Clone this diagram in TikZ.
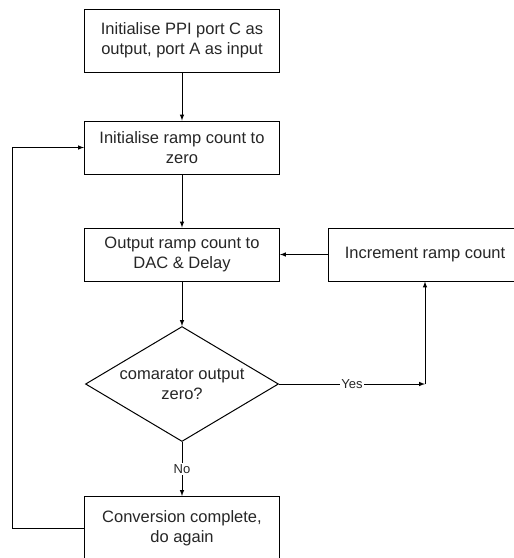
\documentclass[tikz,border=0pt]{standalone}
\usepackage{fontspec}
\setmainfont{Liberation Sans}
\usepackage{tikz}
\usetikzlibrary{arrows,shapes.geometric}

\begin{document}
\begin{tikzpicture}[>=latex, line width=1pt, font=\fontsize{16.5}{20}\selectfont, text=black!85,
  box/.style = {draw, rectangle, minimum width=195pt, minimum height=53pt, align=center},
  dec/.style = {draw, diamond, aspect=1.68, inner sep=0pt, minimum width=193pt, minimum height=115pt, align=center},
  lbl/.style = {fill=white, inner sep=1pt, font=\fontsize{13}{15}\selectfont}]
\useasboundingbox (0,0) rectangle (514pt,-558pt);
\node[box,minimum height=63pt] (init) at (182pt,-40.5pt) {Initialise PPI port C as\\output, port A as input};
\node[box] (zero) [below of=init,node distance=107pt] {Initialise ramp count to\\zero};
\node[box] (out) [below of=zero,node distance=107pt] {Output ramp count to\\DAC \& Delay};
\node[dec] (cmp) [below of=out,node distance=129.5pt] {comarator output\\zero?};
\node[box,minimum height=63pt] (done) [below of=cmp,node distance=144pt] {Conversion complete,\\do again};
\node[box,minimum width=194pt] (inc) [right of=out,node distance=243pt] {Increment ramp count};
\coordinate (yes) at (cmp.east -| inc.south);
\coordinate (back) at (12pt,0);
\draw[->] (init) -- (zero);
\draw[->] (zero) -- (out);
\draw[->] (out) -- (cmp);
\draw[->] (cmp) -- node[lbl] {No} (done);
\draw[->] (cmp.east) -- node[lbl] {Yes} (yes);
\draw[->] (yes) -- (inc.south);
\draw[->] (inc) -- (out);
\draw[->] (done.west) -- (done.west -| back) |- (zero.west);
\end{tikzpicture}
\end{document}
